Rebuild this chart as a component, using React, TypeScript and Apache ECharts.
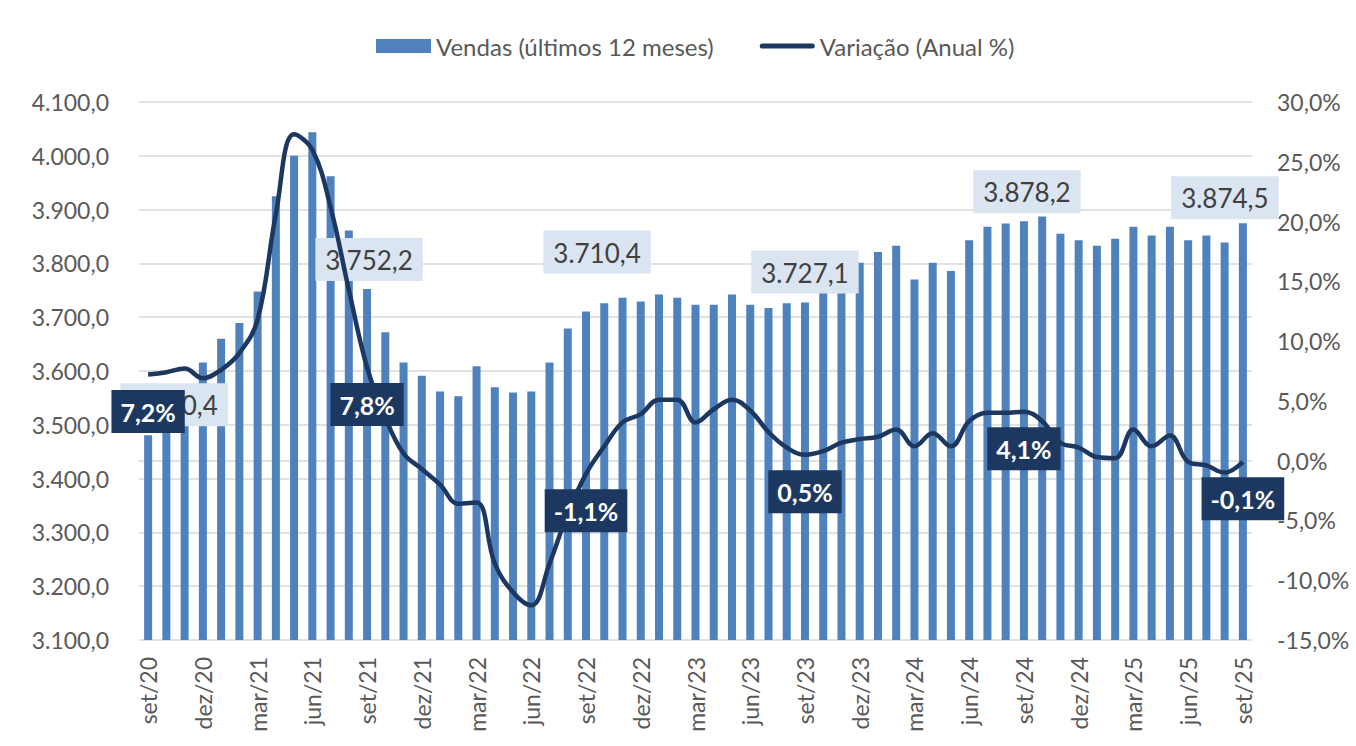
import React, { useEffect, useRef } from "react";
import * as echarts from "echarts";

const months = ["jan", "fev", "mar", "abr", "mai", "jun", "jul", "ago", "set", "out", "nov", "dez"];
const categories: string[] = [];
for (let i = 0; i < 61; i++) {
  const m = (8 + i) % 12;
  const y = 20 + Math.floor((8 + i) / 12);
  categories.push(`${months[m]}/${y}`);
}

const vendas = [
  3480.4, 3520, 3555, 3616, 3660, 3689, 3748, 3925, 4000, 4044, 3962, 3861,
  3752.2, 3672, 3616, 3591, 3562, 3553, 3609, 3570, 3560, 3562, 3616, 3679,
  3710.4, 3726, 3736, 3729, 3742, 3736, 3723, 3723, 3742, 3723, 3717, 3726,
  3727.1, 3745, 3760, 3801, 3821, 3833, 3770, 3801, 3786, 3843, 3868, 3874,
  3878.2, 3887, 3855, 3843, 3833, 3846, 3868, 3852, 3868, 3843, 3852, 3839,
  3874.5,
];

const variacao = [
  7.2, 7.4, 7.7, 6.9, 7.6, 9.0, 11.8, 20.6, 27.3, 26.0, 21.2, 14.3,
  7.8, 3.6, 0.6, -0.7, -2.0, -3.6, -3.5, -8.6, -11.0, -12.1, -8.6, -4.4,
  -1.1, 1.2, 3.2, 3.9, 5.1, 5.1, 3.2, 4.3, 5.1, 4.2, 2.4, 1.1,
  0.5, 0.8, 1.5, 1.8, 2.0, 2.6, 1.2, 2.3, 1.2, 3.3, 4.0, 4.0,
  4.1, 3.3, 1.5, 1.1, 0.3, 0.2, 2.6, 1.2, 2.1, -0.1, -0.4, -1.0,
  -0.1,
];

const labelIdx = [0, 12, 24, 36, 48, 60];
// manual label placements (like Excel's hand-moved labels): [dx, distance]
const barLabelPlace: Record<number, [number, number]> = {
  0: [26, 9],
  12: [2, 8],
  24: [11, 38],
  36: [0, 9],
  48: [3, 8],
  60: [-18, 4],
};

function fmtNum(v: number, dec: number): string {
  const neg = v < 0;
  const s = Math.abs(v).toFixed(dec);
  const [int, frac] = s.split(".");
  const withSep = int.replace(/\B(?=(\d{3})+(?!\d))/g, ".");
  return (neg ? "-" : "") + withSep + (frac !== undefined ? "," + frac : "");
}

const FONT = "Lato, 'Noto Sans', sans-serif";
const GREY = "#595959";
const NAVY = "#1c3861";

export default function App() {
  const ref = useRef<HTMLDivElement>(null);
  useEffect(() => {
    if (!ref.current) return;
    const chart = echarts.init(ref.current, null, { renderer: "svg" });
    const barData = vendas.map((v, i) => {
      if (!labelIdx.includes(i)) return v;
      const [dx, dist] = barLabelPlace[i];
      return {
        value: v,
        label: {
          show: true,
          position: "top",
          distance: dist,
          offset: [dx, 0],
          formatter: () => fmtNum(v, 1),
          backgroundColor: "#dbe5f1",
          color: "#404040",
          fontFamily: FONT,
          fontSize: 26,
          lineHeight: 30,
          padding: [7, 10, 6, 10],
        },
      };
    });
    const labelData = variacao.map((v, i) => (labelIdx.includes(i) ? v : "-"));
    chart.setOption({
      animation: false,
      textStyle: { fontFamily: FONT },
      legend: {
        top: 29,
        left: 371,
        itemWidth: 55,
        itemHeight: 14,
        itemGap: 46,
        textStyle: { color: GREY, fontSize: 24, fontFamily: FONT },
        data: [
          { name: "Vendas (últimos 12 meses)", icon: "rect" },
          {
            name: "Variação (Anual %)",
            icon: "path://M2.5 0H52.5A2.5 2.5 0 0 1 52.5 5H2.5A2.5 2.5 0 0 1 2.5 0Z",
          },
        ],
      },
      grid: { left: 139, right: 104, top: 102, bottom: 106 },
      xAxis: {
        type: "category",
        data: categories,
        axisTick: { show: false },
        axisLine: { lineStyle: { color: "#d9d9d9", width: 1.5 } },
        axisLabel: {
          rotate: 90,
          interval: 2,
          color: GREY,
          fontSize: 23,
          fontFamily: FONT,
          margin: 17,
        },
      },
      yAxis: [
        {
          type: "value",
          min: 3100,
          max: 4100,
          interval: 100,
          axisLine: { show: false },
          axisTick: { show: false },
          splitLine: { lineStyle: { color: "#d9d9d9", width: 1.5 } },
          axisLabel: {
            color: GREY,
            fontSize: 23,
            fontFamily: FONT,
            margin: 30,
            formatter: (v: number) => fmtNum(v, 1),
          },
        },
        {
          type: "value",
          min: -15,
          max: 30,
          interval: 5,
          axisLine: { show: false },
          axisTick: { show: false },
          splitLine: { show: false },
          axisLabel: {
            color: GREY,
            fontSize: 23,
            fontFamily: FONT,
            margin: 25,
            formatter: (v: number) => fmtNum(v, 1) + "%",
          },
        },
      ],
      series: [
        {
          name: "Vendas (últimos 12 meses)",
          type: "bar",
          yAxisIndex: 0,
          barWidth: 8,
          itemStyle: { color: "#4f81bd" },
          data: barData,
          z: 2,
        },
        {
          name: "Variação (Anual %)",
          type: "line",
          yAxisIndex: 1,
          smooth: 0.4,
          symbol: "none",
          showSymbol: false,
          lineStyle: { color: NAVY, width: 4.5 },
          itemStyle: { color: NAVY },
          data: variacao,
          z: 5,
        },
        {
          name: "rotulos",
          type: "scatter",
          yAxisIndex: 1,
          symbolSize: 1,
          itemStyle: { color: "rgba(0,0,0,0)", opacity: 1 },
          data: labelData,
          z: 6,
          silent: true,
          label: {
            show: true,
            position: "bottom",
            distance: 15,
            formatter: (p: any) => fmtNum(p.value as number, 1) + "%",
            backgroundColor: NAVY,
            color: "#ffffff",
            fontWeight: "bold",
            fontFamily: FONT,
            fontSize: 25,
            lineHeight: 30,
            padding: [7, 9, 6, 9],
          },
        },
      ],
    });
    return () => chart.dispose();
  }, []);
  return (
    <div
      ref={ref}
      style={{ position: "absolute", left: 0, top: 0, width: 1356, height: 746 }}
    />
  );
}
